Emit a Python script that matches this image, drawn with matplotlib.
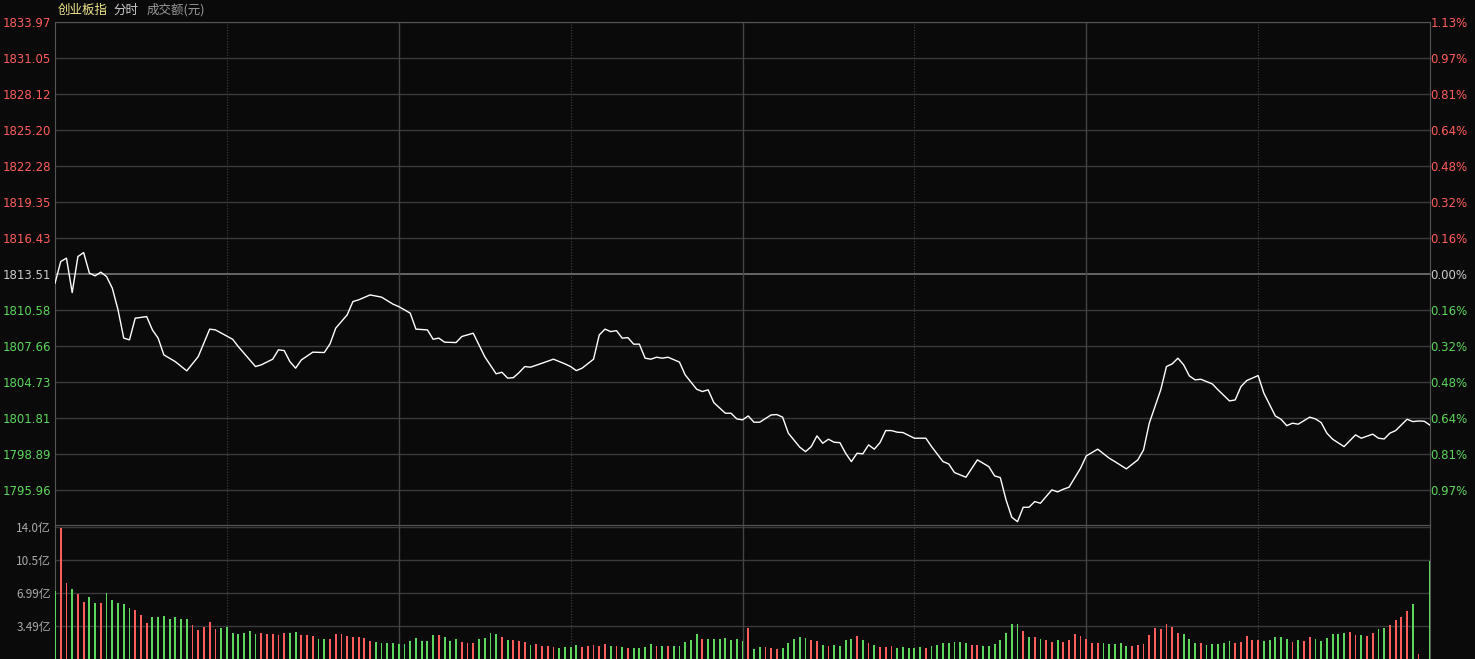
import matplotlib
matplotlib.use("Agg")
import matplotlib.pyplot as plt
import numpy as np

plt.rcParams['font.family'] = ['Noto Sans CJK SC', 'DejaVu Sans']

# 分时价格 (minute index, price)
minutes = [0, 1, 2, 3, 4, 5, 6, 7, 8, 9, 10, 11, 12, 13, 14, 16, 17, 18, 19, 21, 23, 25, 27, 28, 31, 32,
           35, 36, 38, 39, 40, 41, 42, 43, 45, 47, 48, 49, 51, 52, 53, 55, 57, 59, 60, 62, 63, 65, 66, 67,
           68, 70, 71, 73, 75, 77, 78, 79, 80, 81, 82, 83, 85, 87, 89, 90, 91, 92, 94, 95, 96, 97, 98, 99,
           100, 101, 102, 103, 104, 105, 106, 107, 109, 110, 112, 113, 114, 115, 117, 118, 119, 120, 121,
           122, 123, 125, 126, 127, 128, 130, 131, 132, 133, 134, 135, 136, 137, 138, 139, 140, 141, 142,
           143, 144, 145, 146, 147, 148, 150, 152, 153, 155, 156, 157, 159, 161, 163, 164, 165, 166, 167,
           168, 169, 170, 171, 172, 174, 175, 176, 177, 179, 180, 182, 184, 185, 187, 189, 190, 191, 193,
           194, 195, 196, 197, 198, 199, 200, 201, 202, 203, 205, 206, 207, 208, 210, 211, 213, 214, 215,
           216, 217, 219, 220, 221, 222, 223, 225, 227, 228, 230, 231, 232, 233, 234, 236, 237, 238, 239, 240]
prices = [1812.75, 1814.51, 1814.79, 1811.99, 1814.92, 1815.24, 1813.57, 1813.35, 1813.65, 1813.29,
          1812.35, 1810.59, 1808.29, 1808.15, 1809.91, 1810.04, 1808.96, 1808.29, 1806.93, 1806.38,
          1805.63, 1806.79, 1809.02, 1808.96, 1808.20, 1807.60, 1805.98, 1806.12, 1806.58, 1807.34,
          1807.28, 1806.38, 1805.85, 1806.52, 1807.15, 1807.12, 1807.82, 1809.10, 1810.18, 1811.26,
          1811.40, 1811.80, 1811.62, 1811.05, 1810.85, 1810.32, 1809.02, 1808.96, 1808.20, 1808.29,
          1807.96, 1807.93, 1808.42, 1808.69, 1806.79, 1805.39, 1805.52, 1805.04, 1805.08, 1805.49,
          1805.98, 1805.93, 1806.25, 1806.58, 1806.20, 1805.98, 1805.65, 1805.85, 1806.58, 1808.55,
          1809.02, 1808.82, 1808.90, 1808.29, 1808.33, 1807.80, 1807.80, 1806.66, 1806.58, 1806.74,
          1806.66, 1806.74, 1806.34, 1805.30, 1804.14, 1803.95, 1804.09, 1803.05, 1802.19, 1802.19,
          1801.73, 1801.65, 1801.97, 1801.46, 1801.46, 1802.05, 1802.08, 1801.87, 1800.57, 1799.43,
          1799.07, 1799.48, 1800.35, 1799.75, 1800.08, 1799.83, 1799.80, 1798.94, 1798.26, 1798.94,
          1798.89, 1799.62, 1799.27, 1799.80, 1800.78, 1800.78, 1800.65, 1800.62, 1800.16, 1800.16,
          1799.48, 1798.26, 1798.07, 1797.37, 1796.99, 1798.40, 1797.85, 1797.10, 1796.96, 1795.15,
          1793.74, 1793.38, 1794.55, 1794.55, 1795.01, 1794.88, 1795.96, 1795.80, 1796.02, 1796.18,
          1797.72, 1798.72, 1799.27, 1798.54, 1798.26, 1797.67, 1798.40, 1799.21, 1801.38, 1804.09,
          1805.98, 1806.20, 1806.66, 1806.12, 1805.22, 1804.90, 1804.95, 1804.76, 1804.57, 1804.09,
          1803.19, 1803.27, 1804.35, 1804.84, 1805.25, 1803.82, 1801.97, 1801.70, 1801.18, 1801.38,
          1801.30, 1801.87, 1801.73, 1801.43, 1800.57, 1800.08, 1799.48, 1800.43, 1800.16, 1800.49,
          1800.16, 1800.10, 1800.57, 1800.78, 1801.70, 1801.51, 1801.56, 1801.54, 1801.22]

# 成交额 (亿), one bar per minute
volume = [7.2, 13.9, 8.1, 7.4, 6.87, 6.0, 6.6, 5.9, 5.9, 7.0,
          6.2, 5.9, 5.8, 5.4, 5.2, 4.7, 3.8, 4.5, 4.5, 4.6,
          4.2, 4.5, 4.2, 4.2, 3.6, 3.1, 3.4, 3.9, 3.2, 3.3,
          3.4, 2.75, 2.6, 2.75, 3.0, 2.6, 2.8, 2.6, 2.6, 2.5,
          2.8, 2.8, 2.9, 2.5, 2.5, 2.4, 2.1, 2.1, 2.1, 2.6,
          2.6, 2.4, 2.3, 2.3, 2.2, 1.9, 1.8, 1.7, 1.7, 1.7,
          1.6, 1.6, 1.9, 2.2, 1.9, 1.9, 2.5, 2.5, 2.3, 1.9,
          2.1, 1.75, 1.7, 1.7, 2.1, 2.2, 2.8, 2.7,
          2.34, 1.98, 1.98, 1.87, 1.76, 1.48, 1.58, 1.37, 1.37, 1.26,
          1.15, 1.26, 1.26, 1.48, 1.26, 1.37, 1.48, 1.37, 1.58, 1.37,
          1.37, 1.26, 1.12, 1.12, 1.15, 1.26, 1.58, 1.37, 1.37, 1.37,
          1.37, 1.37, 1.76, 1.98, 2.66, 2.09, 2.09, 2.09, 2.09, 2.23,
          1.98, 2.09, 1.87, 3.24, 1.01, 1.26, 1.26, 1.12, 1.01, 1.12,
          1.69, 2.09, 2.34, 2.23,
          1.98, 1.87, 1.48, 1.37, 1.48, 1.37, 1.98, 2.09, 2.45, 1.98,
          1.69, 1.48, 1.26, 1.26, 1.37, 1.12, 1.26, 1.15, 1.15, 1.26,
          1.15, 1.37, 1.48, 1.69, 1.69, 1.76, 1.76, 1.69, 1.48, 1.48,
          1.37, 1.37, 1.58, 1.98, 2.74, 3.71, 3.71, 3.02, 2.34, 2.34,
          2.09, 1.98, 1.76, 1.98, 1.76, 1.98, 2.63, 2.45, 2.09, 1.69,
          1.69, 1.69, 1.58, 1.58, 1.69,
          1.37, 1.37, 1.47, 1.61, 2.52, 3.33, 3.22, 3.75, 3.40, 2.80,
          2.63, 2.10, 1.72, 1.72, 1.51, 1.61, 1.61, 1.72, 1.93, 1.72,
          1.82, 2.42, 2.00, 2.00, 1.93, 2.03, 2.31, 2.35, 2.17, 1.82,
          2.03, 1.93, 2.31, 2.10, 1.93, 2.21, 2.63, 2.63, 2.77, 2.87,
          2.52, 2.52, 2.45, 2.77, 3.15, 3.26, 3.57, 4.13, 4.41, 5.04,
          5.88, 0.53, 0.0, 10.36]
# r = up (red), g = down (green)
vol_dir = ("grrgrrggrg" "ggggrrrggg" "ggggrrrrrg" "ggggggrrrr" "rggrrrggrr" "rrrrrrgggg" "gggggggrgg" "grrrgggg"
           "rgrrrgrrrr" "ggggrrrrrg" "rgrggggrgr" "gggggrgggg" "gggrggrrrg" "gggg"
           "rrgrggggrg" "rgrrrggggg" "rgggggggrr" "gggggggrgr" "grrgrrrrrr" "rgggg"
           "grrrrrrrrr" "gggrgggggr" "rrrrgggggr" "grrggggggr" "rgrrggrrrr" "grgg")

price_ticks = [1833.97, 1831.05, 1828.12, 1825.20, 1822.28, 1819.35, 1816.43, 1813.51,
               1810.58, 1807.66, 1804.73, 1801.81, 1798.89, 1795.96]
pct_labels = ["1.13%", "0.97%", "0.81%", "0.64%", "0.48%", "0.32%", "0.16%", "0.00%",
              "0.16%", "0.32%", "0.48%", "0.64%", "0.81%", "0.97%"]
vol_ticks = [14.0, 10.5, 6.99, 3.49]
vol_labels = ["14.0亿", "10.5亿", "6.99亿", "3.49亿"]
pre_close = 1813.51

BG = "#0a0a0a"
RED = "#ff5c5c"
GREEN = "#5cd65c"
GRID = "#3a3a3a"

fig = plt.figure(figsize=(14.75, 6.59), dpi=100, facecolor=BG)
ax = fig.add_axes([55 / 1475, 134 / 659, 1375 / 1475, 503 / 659], facecolor=BG)
axv = fig.add_axes([55 / 1475, 0.0, 1375 / 1475, 134 / 659], facecolor=BG)

for a in (ax, axv):
    a.set_xlim(0, 240)
    for s in a.spines.values():
        s.set_color("#555555")
    a.set_xticks([])
    for m in (60, 120, 180):
        a.axvline(m, color="#444444", lw=1)
    for m in (30, 90, 150, 210):
        a.axvline(m, color="#444444", lw=0.8, ls=(0, (1, 1.5)))

# price panel
ax.set_ylim(1793.11, 1833.97)
for t in price_ticks:
    ax.axhline(t, color="#666666" if t == pre_close else GRID, lw=1.4 if t == pre_close else 1, zorder=1)
ax.plot(minutes, prices, color="white", lw=1, zorder=3)
ax.set_yticks(price_ticks)
ax.set_yticklabels(["%.2f" % t for t in price_ticks], fontsize=8.5)
ax.tick_params(axis="y", length=0, pad=3)
for t, lab in zip(price_ticks, ax.get_yticklabels()):
    lab.set_color(RED if t > pre_close else ("#cccccc" if t == pre_close else GREEN))
    lab.set_family("DejaVu Sans")

axr = ax.twinx()
axr.set_ylim(ax.get_ylim())
axr.set_yticks(price_ticks)
axr.set_yticklabels(pct_labels, fontsize=8.5)
axr.tick_params(axis="y", length=0, pad=27)
for s in axr.spines.values():
    s.set_visible(False)
for t, lab in zip(price_ticks, axr.get_yticklabels()):
    lab.set_horizontalalignment("right")
    lab.set_color(RED if t > pre_close else ("#cccccc" if t == pre_close else GREEN))
    lab.set_family("DejaVu Sans")

# volume panel
axv.set_ylim(0, 14.2)
for t in vol_ticks:
    axv.axhline(t, color=GRID, lw=1, zorder=1)
x = np.arange(len(volume))
colors = [RED if c == "r" else GREEN for c in vol_dir]
axv.bar(x, volume, width=0.32, color=colors, linewidth=0, zorder=3)
axv.set_yticks(vol_ticks)
axv.set_yticklabels(vol_labels, fontsize=8.5, color="#aaaaaa")
axv.tick_params(axis="y", length=0, pad=3)

# header
fig.text(58 / 1475, 1 - 10 / 659, "创业板指", color="#f0e68c", fontsize=9, va="center")
fig.text(113 / 1475, 1 - 10 / 659, "分时", color="#cccccc", fontsize=9, va="center")
fig.text(147 / 1475, 1 - 10 / 659, "成交额(元)", color="#999999", fontsize=9, va="center")

fig.savefig("out.png", dpi=100, facecolor=BG)
